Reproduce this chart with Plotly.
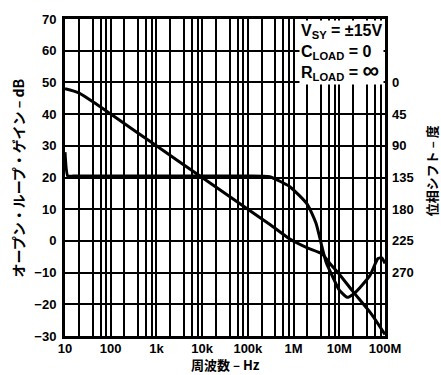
import plotly.graph_objects as go

# Open-loop gain (dB) vs frequency (Hz)
gain_freq = [10, 20, 50, 100, 1e3, 1e4, 1e5, 3.1e5, 8.3e5, 2e6, 4.2e6, 6.3e6, 1e7, 2e7, 5e7, 1e8]
gain_db = [48, 46.7, 43, 40, 30, 20, 10, 5.1, 0.6, -2.2, -4.1, -7.2, -10.5, -16, -23, -29.5]

# Phase shift (degrees) vs frequency (Hz)
phase_freq = [10, 11.5, 15, 100, 1e3, 1e4, 1e5, 3e5, 8.3e5, 2e6, 3.1e6, 4.2e6, 5.2e6, 7.3e6, 1e7,
              1.48e7, 2e7, 2.85e7, 4.7e7, 7e7, 8.5e7, 1e8]
phase_deg = [99, 133, 133, 133, 133, 133, 133, 134, 148, 173, 200, 234, 256, 277, 295,
             305, 301, 291, 274, 250, 249, 257]

x_tickvals = [10, 100, 1e3, 1e4, 1e5, 1e6, 1e7, 1e8]
x_ticktext = ["10", "100", "1k", "10k", "100k", "1M", "10M", "100M"]
x_minor_digits = [2, 4, 6, 8]
y_tickvals = [-30, -20, -10, 0, 10, 20, 30, 40, 50, 60, 70]
phase_tickvals = [0, 45, 90, 135, 180, 225, 270]

minor_vals = [d * dec for dec in x_tickvals[:-1] for d in x_minor_digits]

FONT = "Liberation Sans, Arial, Noto Sans CJK JP, sans-serif"
CJK = "Noto Sans CJK JP, Liberation Sans, sans-serif"

fig = go.Figure()
fig.add_trace(go.Scatter(x=gain_freq, y=gain_db, mode="lines",
                         line=dict(color="black", width=3, shape="spline", smoothing=0.6),
                         showlegend=False))
fig.add_trace(go.Scatter(x=phase_freq, y=phase_deg, mode="lines", yaxis="y2",
                         line=dict(color="black", width=3, shape="spline", smoothing=0.5),
                         showlegend=False))

fig.update_layout(
    width=441, height=375,
    margin=dict(l=65, r=56, t=16, b=39),
    paper_bgcolor="white", plot_bgcolor="white",
    font=dict(family=FONT, size=13, color="black"),
    xaxis=dict(type="log", range=[1, 8], tickvals=x_tickvals, ticktext=x_ticktext,
               showgrid=True, gridcolor="black", gridwidth=2,
               minor=dict(tickvals=minor_vals, showgrid=True, gridcolor="black", gridwidth=1.5),
               showline=True, linecolor="black", linewidth=3, mirror=True,
               ticks="", ticklabelstandoff=-2,
               tickfont=dict(family=FONT, size=13, weight="bold"),
               zeroline=False),
    yaxis=dict(range=[-30, 70], tickvals=y_tickvals, showgrid=True, gridcolor="black",
               gridwidth=1.5, showline=True, linecolor="black", linewidth=3, mirror=True,
               ticks="", ticklabelstandoff=3,
               tickfont=dict(family=FONT, size=13, weight="bold"), zeroline=False),
    yaxis2=dict(overlaying="y", side="right", range=[360, -90], tickvals=phase_tickvals,
                showgrid=False, showline=False, ticks="", zeroline=False,
                ticklabelstandoff=6,
                tickfont=dict(family=FONT, size=13, weight="bold")),
)

fig.add_annotation(xref="paper", yref="paper", x=0.5, y=-0.09, xanchor="center", yanchor="middle",
                   text="<b>周波数 – Hz</b>", showarrow=False,
                   font=dict(family=CJK, size=13))
fig.add_annotation(xref="paper", yref="paper", x=-0.147, y=0.5, xanchor="center", yanchor="middle",
                   text="<b>オープン・ループ・ゲイン – dB</b>", textangle=-90, showarrow=False,
                   font=dict(family=CJK, size=14))
fig.add_annotation(xref="paper", yref="paper", x=1.144, y=0.52, xanchor="center", yanchor="middle",
                   text="<b>位相シフト – 度</b>", textangle=-90, showarrow=False,
                   font=dict(family=CJK, size=13))
fig.add_annotation(xref="paper", yref="paper", x=0.997, y=0.997, xanchor="right", yanchor="top",
                   align="left", showarrow=False, bgcolor="white", borderpad=1,
                   text="<b>V<sub>SY</sub> = ±15V<br>C<sub>LOAD</sub> = 0<br>R<sub>LOAD</sub> = <span style='font-size:23px'>∞</span></b>",
                   font=dict(family=FONT, size=16))

fig.write_html("out.html")
